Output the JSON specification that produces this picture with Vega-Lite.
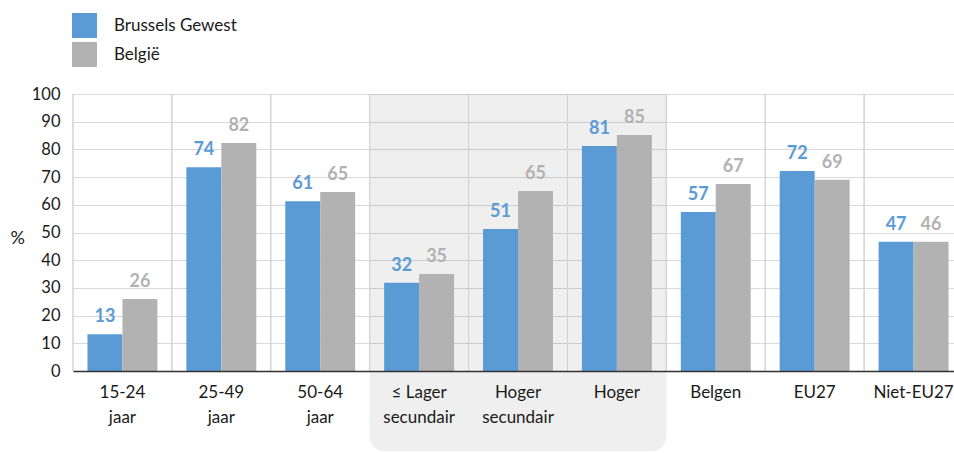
{
  "$schema": "https://vega.github.io/schema/vega-lite/v6.json",
  "autosize": {"type": "none"},
  "width": 881,
  "height": 277,
  "padding": {"left": 73, "top": 94, "right": 0, "bottom": 82},
  "background": "white",
  "config": {
    "font": "Lato",
    "view": {"stroke": null},
    "axisY": {
      "titleAngle": 0, "titleX": -63, "titleY": 144, "titleAlign": "left", "titleBaseline": "middle",
      "titleFontSize": 18, "titleFontWeight": "normal", "titleColor": "#1a1a1a",
      "grid": true, "gridColor": "#d9d9d9", "ticks": false, "tickSize": 0, "domain": false,
      "labelFontSize": 16.5, "labelColor": "#1a1a1a", "labelPadding": 13, "labelOverlap": false,
      "tickCount": 12, "zindex": 0
    }
  },
  "datasets": {
    "bars": [
      {"cat": "15-24 jaar", "series": "Brussels Gewest", "value": 13.3, "label": "13"},
      {"cat": "15-24 jaar", "series": "België", "value": 26, "label": "26"},
      {"cat": "25-49 jaar", "series": "Brussels Gewest", "value": 73.6, "label": "74"},
      {"cat": "25-49 jaar", "series": "België", "value": 82.3, "label": "82"},
      {"cat": "50-64 jaar", "series": "Brussels Gewest", "value": 61.3, "label": "61"},
      {"cat": "50-64 jaar", "series": "België", "value": 64.6, "label": "65"},
      {"cat": "≤ Lager secundair", "series": "Brussels Gewest", "value": 31.9, "label": "32"},
      {"cat": "≤ Lager secundair", "series": "België", "value": 35, "label": "35"},
      {"cat": "Hoger secundair", "series": "Brussels Gewest", "value": 51.3, "label": "51"},
      {"cat": "Hoger secundair", "series": "België", "value": 65, "label": "65"},
      {"cat": "Hoger", "series": "Brussels Gewest", "value": 81.2, "label": "81"},
      {"cat": "Hoger", "series": "België", "value": 85.2, "label": "85"},
      {"cat": "Belgen", "series": "Brussels Gewest", "value": 57.4, "label": "57"},
      {"cat": "Belgen", "series": "België", "value": 67.5, "label": "67"},
      {"cat": "EU27", "series": "Brussels Gewest", "value": 72.2, "label": "72"},
      {"cat": "EU27", "series": "België", "value": 69, "label": "69"},
      {"cat": "Niet-EU27", "series": "Brussels Gewest", "value": 46.7, "label": "47"},
      {"cat": "Niet-EU27", "series": "België", "value": 46.7, "label": "46"}
    ],
    "groups": [{"from": "≤ Lager secundair", "to": "Hoger"}]
  },
  "layer": [
    {
      "data": {"name": "groups"},
      "mark": {"type": "rect", "fill": "#000000", "opacity": 0.063, "cornerRadiusBottomLeft": 15, "cornerRadiusBottomRight": 15},
      "encoding": {
        "x": {"field": "from", "type": "nominal", "bandPosition": 0},
        "x2": {"field": "to", "bandPosition": 1},
        "y": {"datum": 100, "type": "quantitative", "scale": {"domain": [0, 100], "nice": false}, "axis": {"title": "%", "tickCount": 12, "values": [0, 10, 20, 30, 40, 50, 60, 70, 80, 90, 100]}},
        "y2": {"datum": -29}
      }
    },
    {
      "data": {"name": "bars"},
      "mark": {"type": "rule", "color": "#d2d2d2", "strokeWidth": 1},
      "encoding": {
        "x": {"field": "cat", "type": "nominal", "bandPosition": 0},
        "y": {"datum": 0, "type": "quantitative", "axis": {"title": "%", "tickCount": 12, "values": [0, 10, 20, 30, 40, 50, 60, 70, 80, 90, 100]}},
        "y2": {"datum": 100}
      }
    },
    {
      "data": {"name": "bars"},
      "mark": {"type": "bar"},
      "encoding": {
        "x": {
          "field": "cat", "type": "nominal",
          "scale": {"domain": ["15-24 jaar", "25-49 jaar", "50-64 jaar", "≤ Lager secundair", "Hoger secundair", "Hoger", "Belgen", "EU27", "Niet-EU27"], "range": [0, 890], "paddingInner": 0, "paddingOuter": 0},
          "axis": {
            "title": null, "grid": false,
            "ticks": false, "tickSize": 0, "domainColor": "#333333", "domainWidth": 1.5,
            "labelFontSize": 17, "labelColor": "#1a1a1a", "labelPadding": 13, "labelAngle": 0, "labelAlign": "center",
            "labelLineHeight": 25, "labelBaseline": "top", "labelOverlap": false, "zindex": 1,
            "labelExpr": "datum.label == '≤ Lager secundair' ? ['≤ Lager', 'secundair'] : split(datum.label, ' ')"
          }
        },
        "xOffset": {"field": "series", "type": "nominal", "scale": {"domain": ["Brussels Gewest", "België"], "paddingInner": 0, "paddingOuter": 0.414}},
        "y": {
          "field": "value", "type": "quantitative",
          "scale": {"domain": [0, 100], "nice": false},
          "axis": {"title": "%", "tickCount": 12, "values": [0, 10, 20, 30, 40, 50, 60, 70, 80, 90, 100]}
        },
        "color": {
          "field": "series", "type": "nominal",
          "scale": {"domain": ["Brussels Gewest", "België"], "range": ["#5b9bd5", "#b2b2b2"]},
          "legend": {
            "title": null, "orient": "none", "legendX": -1, "legendY": -81, "padding": 0,
            "symbolType": "square", "symbolSize": 625, "symbolStrokeWidth": 0, "symbolOpacity": 1,
            "labelFontSize": 17, "labelColor": "#1a1a1a", "labelOffset": 17, "rowPadding": 4
          }
        }
      }
    },
    {
      "data": {"name": "bars"},
      "mark": {"type": "text", "fontSize": 18, "fontWeight": "bold", "baseline": "bottom", "dy": -8},
      "encoding": {
        "x": {"field": "cat", "type": "nominal"},
        "xOffset": {"field": "series", "type": "nominal"},
        "y": {"field": "value", "type": "quantitative", "axis": {"title": "%", "tickCount": 12, "values": [0, 10, 20, 30, 40, 50, 60, 70, 80, 90, 100]}},
        "text": {"field": "label"},
        "color": {"field": "series", "type": "nominal"}
      }
    }
  ]
}
